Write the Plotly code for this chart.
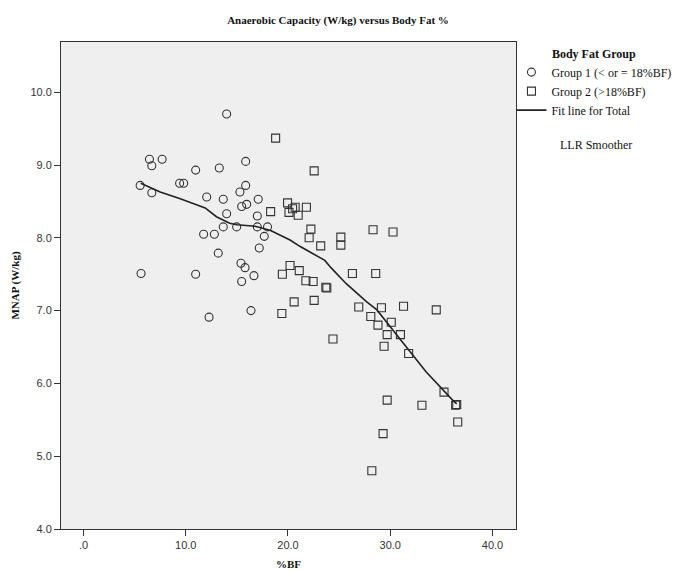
import plotly.graph_objects as go

# ---- data ----
group1_bf = [14.0, 6.45, 6.68, 7.69, 10.97, 13.28, 15.86, 5.54, 6.68, 9.4, 9.8,
             15.86, 15.3, 12.05, 13.67, 17.09, 15.47, 15.96, 14.0, 17.0, 13.67,
             14.98, 17.0, 18.0, 11.75, 12.8, 17.68, 13.18, 17.19, 15.4, 15.8,
             16.67, 15.47, 5.63, 10.97, 16.38, 12.28]
group1_mnap = [9.70, 9.08, 8.99, 9.08, 8.93, 8.96, 9.05, 8.72, 8.62, 8.75, 8.75,
               8.72, 8.63, 8.56, 8.53, 8.53, 8.43, 8.46, 8.33, 8.30, 8.15,
               8.15, 8.15, 8.15, 8.05, 8.05, 8.02, 7.79, 7.86, 7.65, 7.59,
               7.48, 7.40, 7.51, 7.50, 7.00, 6.91]

group2_bf = [18.79, 22.56, 19.96, 20.45, 20.7, 20.1, 21.0, 21.8, 18.3, 22.24,
             22.07, 23.2, 25.17, 25.17, 28.32, 30.27, 20.2, 19.45, 21.1, 21.75,
             22.46, 23.7, 23.8, 26.3, 28.58, 20.6, 22.56, 19.4, 24.4, 26.92,
             29.14, 31.3, 34.5, 28.1, 28.8, 30.1, 29.7, 31.0, 29.4, 31.8,
             35.26, 36.4, 36.5, 33.1, 36.6, 29.7, 29.3, 28.2]
group2_mnap = [9.37, 8.92, 8.48, 8.40, 8.42, 8.35, 8.31, 8.42, 8.36, 8.12,
               8.00, 7.89, 8.01, 7.90, 8.11, 8.08, 7.62, 7.50, 7.55, 7.41,
               7.40, 7.32, 7.31, 7.51, 7.51, 7.12, 7.14, 6.96, 6.61, 7.05,
               7.04, 7.06, 7.01, 6.92, 6.80, 6.84, 6.67, 6.67, 6.51, 6.41,
               5.88, 5.70, 5.71, 5.70, 5.47, 5.77, 5.31, 4.80]

fit_bf = [5.6, 7.5, 9.4, 11.9, 13.0, 14.3, 15.0, 16.8, 18.3, 20.2, 21.2, 22.8,
          23.6, 24.2, 25.7, 27.7, 28.7, 30.0, 31.6, 33.5, 36.1, 36.5]
fit_mnap = [8.75, 8.63, 8.54, 8.41, 8.29, 8.20, 8.18, 8.16, 8.10, 7.97, 7.88, 7.76,
            7.69, 7.59, 7.37, 7.12, 7.01, 6.78, 6.50, 6.16, 5.77, 5.72]

x_tickvals = [0, 10, 20, 30, 40]
x_ticktext = [".0", "10.0", "20.0", "30.0", "40.0"]
y_tickvals = [4, 5, 6, 7, 8, 9, 10]
y_ticktext = ["4.0", "5.0", "6.0", "7.0", "8.0", "9.0", "10.0"]

SERIF = "Liberation Serif, Times New Roman, serif"
SANS = "Liberation Sans, Arial, sans-serif"
INK = "#333333"

fig = go.Figure()
fig.add_trace(go.Scatter(
    x=group1_bf, y=group1_mnap, mode="markers", name="Group 1 (< or = 18%BF)",
    marker=dict(symbol="circle-open", size=8, color=INK, line=dict(width=1.1)),
))
fig.add_trace(go.Scatter(
    x=group2_bf, y=group2_mnap, mode="markers", name="Group 2 (>18%BF)",
    marker=dict(symbol="square-open", size=8, color=INK, line=dict(width=1.1)),
))
fig.add_trace(go.Scatter(
    x=fit_bf, y=fit_mnap, mode="lines", name="Fit line for Total",
    line=dict(color="#222222", width=1.6),
))

fig.update_layout(
    width=683, height=571,
    margin=dict(l=61, r=167, t=42, b=42, autoexpand=False),
    paper_bgcolor="white",
    plot_bgcolor="#efefef",
    title=dict(
        text="<b>Anaerobic Capacity (W/kg) versus Body Fat %</b>",
        x=338 / 683, xanchor="center", xref="container",
        y=1 - 20 / 571, yanchor="middle", yref="container",
        font=dict(family=SERIF, size=11, color="#111111"),
    ),
    legend=dict(
        title=dict(text="<b>Body Fat Group</b>", side="top center",
                   font=dict(family=SERIF, size=12, color="#111111")),
        x=0.99, xanchor="left", y=1.0, yanchor="top",
        font=dict(family=SERIF, size=12, color="#111111"),
        itemwidth=30, tracegroupgap=0, bgcolor="rgba(0,0,0,0)",
    ),
    showlegend=True,
    annotations=[dict(
        text="LLR Smoother", xref="paper", yref="paper",
        x=(596 - 61) / 455, y=(529 - 145) / 487, xanchor="center", yanchor="middle",
        showarrow=False, font=dict(family=SERIF, size=12, color="#111111"),
    )],
)

fig.update_xaxes(
    range=[-2.2, 42.3], tickvals=x_tickvals, ticktext=x_ticktext,
    showgrid=False, zeroline=False, automargin=False,
    showline=True, mirror=True, linecolor=INK, linewidth=1,
    ticks="outside", ticklen=6, tickcolor=INK,
    tickfont=dict(family=SANS, size=11, color=INK),
    title=dict(text="<b>%BF</b>", standoff=10,
               font=dict(family=SERIF, size=11, color="#111111")),
)
fig.update_yaxes(
    range=[4.0, 10.69], tickvals=y_tickvals, ticktext=y_ticktext,
    showgrid=False, zeroline=False, automargin=False,
    showline=True, mirror=True, linecolor=INK, linewidth=1,
    ticks="outside", ticklen=6, tickcolor=INK,
    tickfont=dict(family=SANS, size=11, color=INK),
    title=dict(text="<b>MNAP (W/kg)</b>", standoff=8,
               font=dict(family=SERIF, size=11, color="#111111")),
)

# remove the browser's default 8px body margin so the figure sits at (0, 0)
fig.write_html("out.html", config={"displayModeBar": False},
               post_script="document.body.style.margin='0';")
